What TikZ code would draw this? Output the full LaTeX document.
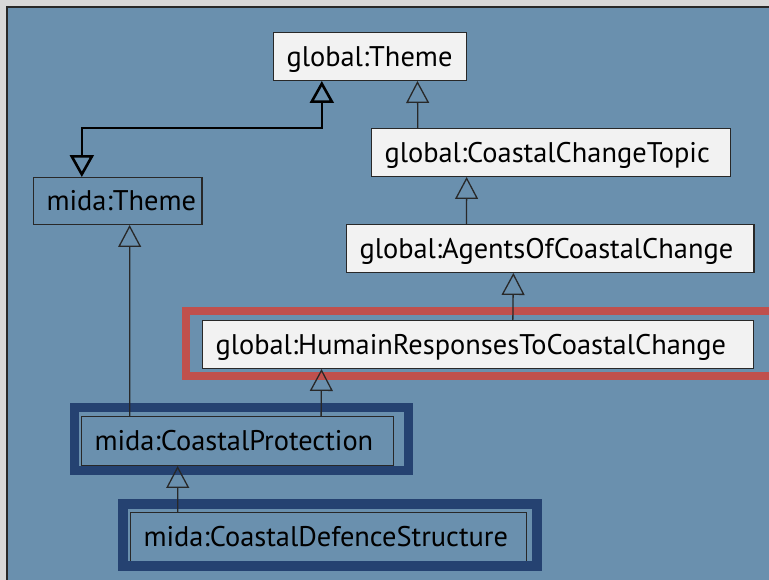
\documentclass[tikz,border=0pt]{standalone}
\usepackage{fontspec}
\setmainfont{PT Sans}
\usepackage{tikz}
\usetikzlibrary{arrows.meta}
\hyphenpenalty=10000

\definecolor{bggrey}{RGB}{216,216,216}
\definecolor{bgblue}{RGB}{106,144,174}
\definecolor{boxwhite}{RGB}{242,242,242}
\definecolor{hlred}{RGB}{192,80,77}
\definecolor{hlnavy}{RGB}{37,66,113}
\definecolor{edge}{RGB}{40,40,40}

\tikzset{
  cls/.style={draw=edge, line width=1.2pt, anchor=north west, inner xsep=13pt, inner ysep=0pt,
    minimum height=48pt, align=left, text height=22pt, text depth=2pt,
    font=\fontsize{28.5}{30}\selectfont},
  gcls/.style={cls, fill=boxwhite},
  mcls/.style={cls},
  gen/.style={draw=edge, line width=1.3pt, -{Triangle[open, length=22pt, width=23pt]}},
  genthick/.style={draw=black, line width=2.6pt,
    {Triangle[open, length=22pt, width=24pt]}-{Triangle[open, length=22pt, width=24pt]}},
}

\begin{document}
\begin{tikzpicture}[x=1bp, y=-1bp]
      \useasboundingbox (0,0) rectangle (769,580);
      \fill[bggrey] (-5,-5) rectangle (780,590);
      \fill[bgblue] (7,7) rectangle (780,590);
      \draw[edge, line width=1.5pt] (7,590) -- (7,7) -- (780,7);

      \node[gcls, text width=168pt] (gtheme) at (273,32) {global:Theme};
      \node[gcls, text width=334pt] (gtopic) at (371,128) {global:CoastalChangeTopic};
      \node[gcls, text width=383pt] (gagents) at (346,224) {global:AgentsOfCoastalChange};
      \node[gcls, text width=527pt] (ghumain) at (202,320) {global:HumainResponsesToCoastalChange};
      \node[mcls, text width=143pt, minimum height=47pt] (mtheme) at (33,177) {mida:Theme};
      \node[mcls, text width=287pt, minimum height=49pt] (mprot) at (81,416) {mida:CoastalProtection};
      \node[mcls, text width=371pt, minimum height=49pt] (mdef) at (130,512) {mida:CoastalDefenceStructure};

      % highlights
      \draw[hlred, line width=8pt] ([xshift=-16pt,yshift=9pt]ghumain.north west) rectangle ([xshift=30pt,yshift=-7pt]ghumain.south east);
      \draw[hlnavy, line width=9pt] ([xshift=-6.5pt,yshift=8.5pt]mprot.north west) rectangle ([xshift=14.5pt,yshift=-4.5pt]mprot.south east);
      \draw[hlnavy, line width=10pt] ([xshift=-7pt,yshift=8pt]mdef.north west) rectangle ([xshift=10pt,yshift=-4pt]mdef.south east);

      \draw[gen] ([xshift=47pt]gtopic.north west) -- ([xshift=145pt]gtheme.south west);
      \draw[gen] ([xshift=121pt]gagents.north west) -- ([xshift=96pt]gtopic.south west);
      \draw[gen] ([xshift=312pt]ghumain.north west) -- ([xshift=168pt]gagents.south west);
      \draw[gen] ([xshift=241pt]mprot.north west) -- ([xshift=120pt]ghumain.south west);
      \draw[gen] ([xshift=49pt]mprot.north west) -- ([xshift=97pt]mtheme.south west);
      \draw[gen] ([xshift=48pt]mdef.north west) -- ([xshift=97pt]mprot.south west);
      \draw[genthick] ([xshift=49pt]mtheme.north west) -- ++(0,-49) -| ([xshift=49pt]gtheme.south west);
\end{tikzpicture}
\end{document}
